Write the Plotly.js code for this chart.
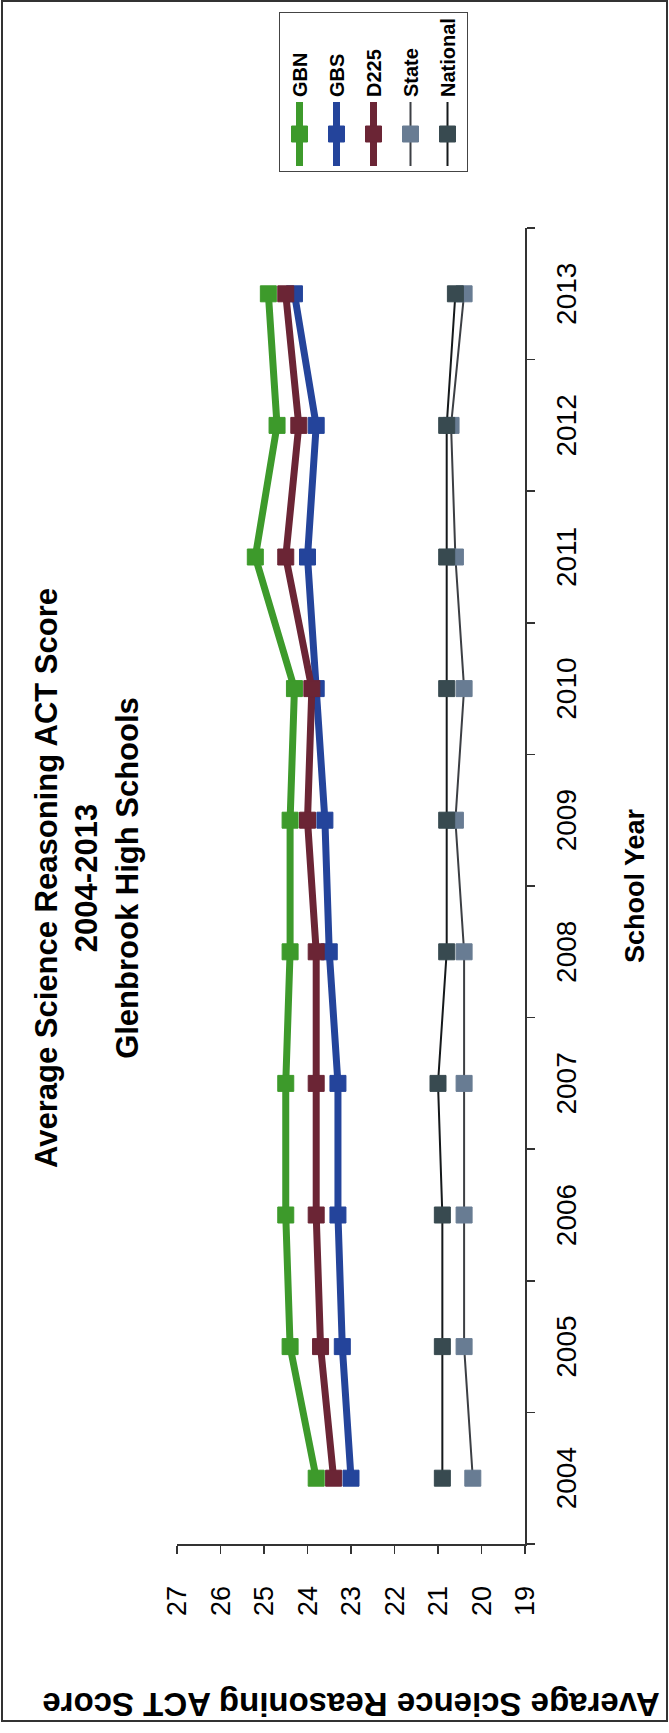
<!DOCTYPE html>
<html>
<head>
<meta charset="utf-8">
<script src="https://cdn.plot.ly/plotly-3.0.1.min.js"></script>
<style>
  html, body { margin:0; padding:0; overflow:hidden; background:#fff; width:669px; height:1733px; }
  #chart { position:absolute; left:0; top:1733px; width:1733px; height:669px;
           transform-origin:0 0; transform:rotate(-90deg); }
  #frame { position:absolute; left:1px; top:0; width:667px; height:1722px;
           border:2px solid #333; box-sizing:border-box; pointer-events:none; }
</style>
</head>
<body>
<div id="chart"></div>
<div id="frame"></div>
<script>
const years    = ['2004','2005','2006','2007','2008','2009','2010','2011','2012','2013'];
const gbn      = [23.8, 24.4, 24.5, 24.5, 24.4, 24.4, 24.3, 25.2, 24.7, 24.9];
const gbs      = [23.0, 23.2, 23.3, 23.3, 23.5, 23.6, 23.8, 24.0, 23.8, 24.3];
const d225     = [23.4, 23.7, 23.8, 23.8, 23.8, 24.0, 23.9, 24.5, 24.2, 24.5];
const state    = [20.2, 20.4, 20.4, 20.4, 20.4, 20.6, 20.4, 20.6, 20.7, 20.4];
const national = [20.9, 20.9, 20.9, 21.0, 20.8, 20.8, 20.8, 20.8, 20.8, 20.6];
const yTicks   = [19, 20, 21, 22, 23, 24, 25, 26, 27];

const FONT = 'Liberation Sans, Arial, Helvetica, sans-serif';

function series(name, vals, lineColor, markerColor, lw, ms) {
  return {
    type: 'scatter', mode: 'lines+markers', name: name, legendgroup: name,
    x: years, y: vals,
    line: { color: lineColor, width: lw },
    marker: { symbol: 'square', size: ms, color: markerColor,
              line: { color: markerColor, width: 1 } }
  };
}

const traces = [
  series('GBN', gbn, '#3d9a2b', '#3d9a2b', 7, 16),
  series('GBS', gbs, '#24449b', '#24449b', 7, 16),
  series('D225', d225, '#6b2535', '#6b2535', 7, 16),
  series('State', state, '#3c3f44', '#687c93', 2, 16),
  series('National', national, '#15191b', '#384a50', 2, 16)
];

const layout = {
  width: 1733, height: 669,
  paper_bgcolor: '#ffffff', plot_bgcolor: '#ffffff',
  margin: { l: 189, r: 228, t: 177, b: 144 },
  font: { family: FONT, color: '#000' },
  showlegend: true,
  title: {
    text: 'Average Science Reasoning ACT Score<br>2004-2013<br>Glenbrook High Schools',
    font: { family: FONT, size: 31, color: '#000', weight: 'bold' },
    xref: 'container', x: 855/1733, xanchor: 'center',
    yref: 'container', y: 1 - 57/669, yanchor: 'top'
  },
  xaxis: {
    type: 'category', range: [-0.5, 9.5],
    tickson: 'boundaries', ticks: 'outside', ticklen: 8, tickwidth: 1.5, tickcolor: '#333',
    showline: true, linecolor: '#333', linewidth: 1.5,
    showgrid: false, zeroline: false,
    tickfont: { family: FONT, size: 28, color: '#000' },
    ticklabelstandoff: 16,
    title: { text: 'School Year', standoff: 44,
             font: { family: FONT, size: 27, color: '#000', weight: 'bold' } }
  },
  yaxis: {
    range: [19, 27], tickmode: 'array', tickvals: yTicks, ticktext: yTicks.map(String),
    ticks: 'outside', ticklen: 8, tickwidth: 1.5, tickcolor: '#333',
    showline: true, linecolor: '#333', linewidth: 1.5,
    showgrid: false, zeroline: false,
    tickfont: { family: FONT, size: 27, color: '#000' },
    ticklabelstandoff: 27,
    title: { text: 'Average Science Reasoning ACT Score', standoff: 66,
             font: { family: FONT, size: 33, color: '#000', weight: 'bold' } }
  },
  legend: {
    x: (1561-189)/1316, xanchor: 'left', xref: 'paper',
    y: (525-279)/348, yanchor: 'top', yref: 'paper',
    bgcolor: '#ffffff', bordercolor: '#444', borderwidth: 1,
    font: { family: FONT, size: 20, color: '#000', weight: 'bold' },
    traceorder: 'grouped', tracegroupgap: 8, itemwidth: 64
  }
};

Plotly.newPlot('chart', traces, layout, { displayModeBar: false, staticPlot: true });
</script>
</body>
</html>
